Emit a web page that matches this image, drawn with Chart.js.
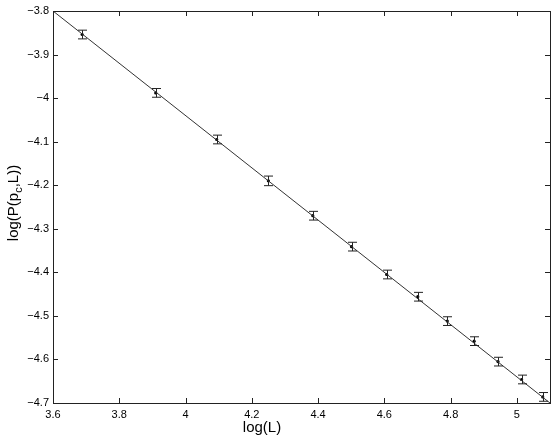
<!DOCTYPE html>
<html>
<head>
<meta charset="utf-8">
<script src="https://cdn.jsdelivr.net/npm/chart.js@4/dist/chart.umd.min.js"></script>
<style>
  html, body { margin: 0; padding: 0; background: #fff; }
  canvas { display: block; }
</style>
</head>
<body>
<canvas id="grafico" width="554" height="438"></canvas>
<script>
// dados
const logL = [3.688, 3.910, 4.094, 4.250, 4.384, 4.501, 4.607, 4.701, 4.790, 4.871, 4.943, 5.014, 5.078];
const logP = [-3.854, -3.988, -4.095, -4.190, -4.270, -4.341, -4.405, -4.456, -4.512, -4.558, -4.605, -4.646, -4.686];
const erro = [0.010, 0.010, 0.010, 0.011, 0.010, 0.010, 0.010, 0.010, 0.010, 0.010, 0.010, 0.010, 0.010];

// reta ajustada
const ajusteX = [3.6, 5.1];
const ajusteY = [-3.8, -4.7];

const fonte = '"Liberation Sans", Arial, Helvetica, sans-serif';
const menos = v => String(Math.round(v * 10) / 10).replace('-', '\u2212');

// barras de erro, caixa e ticks para dentro (estilo MATLAB)
const estiloMatlab = {
    id: 'estiloMatlab',
    afterDatasetsDraw(chart) {
        const ctx = chart.ctx;
        const x = chart.scales.x, y = chart.scales.y;
        ctx.save();
        ctx.strokeStyle = '#222';
        ctx.lineWidth = 1;
        for (let i = 0; i < logL.length; i++) {
            const px = Math.round(x.getPixelForValue(logL[i])) + 0.5;
            const top = y.getPixelForValue(logP[i] + erro[i]);
            const bot = y.getPixelForValue(logP[i] - erro[i]);
            ctx.beginPath();
            ctx.moveTo(px, top); ctx.lineTo(px, bot);
            ctx.moveTo(px - 4.5, top); ctx.lineTo(px + 4.5, top);
            ctx.moveTo(px - 4.5, bot); ctx.lineTo(px + 4.5, bot);
            ctx.stroke();
        }
        ctx.restore();
    },
    afterDraw(chart) {
        const ctx = chart.ctx;
        const a = chart.chartArea;
        const x = chart.scales.x, y = chart.scales.y;
        ctx.save();
        ctx.strokeStyle = '#222';
        ctx.lineWidth = 1;
        ctx.strokeRect(a.left + 0.5, a.top + 0.5, a.right - a.left, a.bottom - a.top);
        ctx.beginPath();
        x.ticks.forEach(t => {
            const px = Math.round(x.getPixelForValue(t.value)) + 0.5;
            ctx.moveTo(px, a.bottom); ctx.lineTo(px, a.bottom - 5);
            ctx.moveTo(px, a.top); ctx.lineTo(px, a.top + 5);
        });
        y.ticks.forEach(t => {
            const py = Math.round(y.getPixelForValue(t.value)) + 0.5;
            ctx.moveTo(a.left, py); ctx.lineTo(a.left + 5, py);
            ctx.moveTo(a.right, py); ctx.lineTo(a.right - 5, py);
        });
        ctx.stroke();

        // titulos dos eixos
        ctx.fillStyle = '#000';
        ctx.font = '15px ' + fonte;
        ctx.textBaseline = 'alphabetic';
        ctx.textAlign = 'center';
        ctx.fillText('log(L)', 262, 432);

        // log(P(p_c,L)) com subscrito
        const parte1 = 'log(P(p', sub = 'c', parte2 = ',L))';
        ctx.font = '15px ' + fonte;
        const w1 = ctx.measureText(parte1).width;
        const w3 = ctx.measureText(parte2).width;
        ctx.font = '11px ' + fonte;
        const w2 = ctx.measureText(sub).width;
        const total = w1 + w2 + w3;
        ctx.translate(18, 203);
        ctx.rotate(-Math.PI / 2);
        ctx.textAlign = 'left';
        let cx = -total / 2;
        ctx.font = '15px ' + fonte;
        ctx.fillText(parte1, cx, 0);
        cx += w1;
        ctx.font = '11px ' + fonte;
        ctx.fillText(sub, cx, 4);
        cx += w2;
        ctx.font = '15px ' + fonte;
        ctx.fillText(parte2, cx, 0);
        ctx.restore();
    }
};

const ctxGrafico = document.getElementById('grafico').getContext('2d');
const grafico = new Chart(ctxGrafico, {
    type: 'scatter',
    data: {
        datasets: [{
            label: 'ajuste',
            data: ajusteX.map((v, i) => ({ x: v, y: ajusteY[i] })),
            showLine: true,
            borderColor: '#333',
            borderWidth: 1,
            pointRadius: 0
        }, {
            label: 'pontos',
            data: logL.map((v, i) => ({ x: v, y: logP[i] })),
            backgroundColor: '#000',
            borderColor: '#000',
            borderWidth: 0,
            pointRadius: 1.6
        }]
    },
    options: {
        responsive: false,
        animation: false,
        layout: { padding: { left: 0, top: 11, right: 4, bottom: 0 } },
        plugins: {
            legend: { display: false },
            tooltip: { enabled: false }
        },
        scales: {
            x: {
                type: 'linear',
                min: 3.6,
                max: 5.1,
                border: { display: false },
                grid: { display: false, drawTicks: false },
                ticks: {
                    stepSize: 0.2,
                    includeBounds: false,
                    padding: 5,
                    color: '#000',
                    maxRotation: 0,
                    font: { family: fonte, size: 11 },
                    callback: v => menos(v)
                },
                afterFit: s => { s.height = 35; }
            },
            y: {
                type: 'linear',
                min: -4.7,
                max: -3.8,
                border: { display: false },
                grid: { display: false, drawTicks: false },
                ticks: {
                    stepSize: 0.1,
                    padding: 4,
                    color: '#000',
                    font: { family: fonte, size: 11 },
                    callback: v => menos(v)
                },
                afterFit: s => { s.width = 53; }
            }
        }
    },
    plugins: [estiloMatlab]
});
</script>
</body>
</html>
